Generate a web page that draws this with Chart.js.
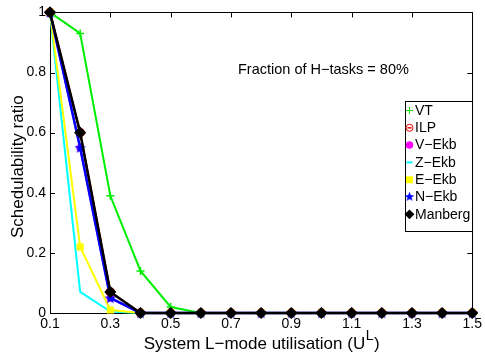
<!DOCTYPE html>
<html lang="en">
<head>
<meta charset="UTF-8">
<title>Schedulability ratio</title>
<script src="https://cdn.jsdelivr.net/npm/chart.js"></script>
<style>
  html, body { margin: 0; padding: 0; background: #fff; }
  #wrap { width: 485px; height: 358px; }
</style>
</head>
<body>
<div id="wrap"><canvas id="myChart" width="485" height="358"></canvas></div>
<script>
  // system L-mode utilisation (x) and the schedulability ratio of each test
  const utilisation = [0.1, 0.2, 0.3, 0.4, 0.5, 0.6, 0.7, 0.8, 0.9, 1.0, 1.1, 1.2, 1.3, 1.4, 1.5];
  const vt      = [1, 0.93, 0.39, 0.14, 0.02, 0, 0, 0, 0, 0, 0, 0, 0, 0, 0];
  const ilp     = [1, 0.60, 0.07, 0, 0, 0, 0, 0, 0, 0, 0, 0, 0, 0, 0];
  const vEkb    = [1, 0.55, 0.05, 0, 0, 0, 0, 0, 0, 0, 0, 0, 0, 0, 0];
  const zEkb    = [1, 0.07, 0.005, 0, 0, 0, 0, 0, 0, 0, 0, 0, 0, 0, 0];
  const eEkb    = [1, 0.22, 0.01, 0, 0, 0, 0, 0, 0, 0, 0, 0, 0, 0, 0];
  const nEkb    = [1, 0.55, 0.05, 0, 0, 0, 0, 0, 0, 0, 0, 0, 0, 0, 0];
  const manberg = [1, 0.60, 0.07, 0, 0, 0, 0, 0, 0, 0, 0, 0, 0, 0, 0];

  const xTicks = [0.1, 0.3, 0.5, 0.7, 0.9, 1.1, 1.3, 1.5];
  const yTicks = [0, 0.2, 0.4, 0.6, 0.8, 1];
  const noteText = 'Fraction of H\u2212tasks = 80%';

  const FONT = '"Liberation Sans", Arial, Helvetica, sans-serif';

  function starImage(size, color) {
    const c = document.createElement('canvas');
    c.width = c.height = size;
    const g = c.getContext('2d');
    const cx = size / 2, cy = size / 2 + 0.5, ro = size / 2 - 0.5, ri = ro * 0.42;
    g.beginPath();
    for (let i = 0; i < 10; i++) {
      const r = i % 2 ? ri : ro;
      const a = -Math.PI / 2 + i * Math.PI / 5;
      g.lineTo(cx + r * Math.cos(a), cy + r * Math.sin(a));
    }
    g.closePath();
    g.fillStyle = color;
    g.fill();
    return c;
  }
  const blueStar = starImage(13, '#0000ff');

  const pts = ys => ys.map((y, i) => ({ x: utilisation[i], y }));

  const series = [
    { label: 'VT', data: vt, color: '#00ee00', style: 'cross', radius: 4, fill: false, width: 2 },
    { label: 'ILP', data: ilp, color: '#ff0000', style: 'circle', radius: 4, fill: false, width: 2 },
    { label: 'V\u2212Ekb', data: vEkb, color: '#ff00ff', style: 'circle', radius: 3, fill: true, width: 2 },
    { label: 'Z\u2212Ekb', data: zEkb, color: '#00ffff', style: 'line', radius: 0, fill: false, width: 2 },
    { label: 'E\u2212Ekb', data: eEkb, color: '#ffff00', style: 'rect', radius: 4, fill: true, width: 2 },
    { label: 'N\u2212Ekb', data: nEkb, color: '#0000ff', style: blueStar, radius: 6, fill: true, width: 2.5 },
    { label: 'Manberg', data: manberg, color: '#000000', style: 'rectRot', radius: 5, fill: true, width: 2.5 }
  ];

  const datasets = series.map((s, i) => ({
    label: s.label,
    data: pts(s.data),
    borderColor: s.color,
    backgroundColor: s.color,
    borderWidth: s.width,
    pointStyle: s.style === 'line' ? 'circle' : s.style,
    pointRadius: s.radius,
    pointBorderWidth: 1.5,
    pointBackgroundColor: s.fill ? s.color : 'rgba(0,0,0,0)',
    pointBorderColor: s.color,
    tension: 0,
    clip: false,
    order: series.length - i
  }));

  // box, inward ticks, axis titles, note text and the legend
  const decorations = {
    id: 'decorations',
    beforeDatasetsDraw(chart) {
      const { ctx, chartArea: a, scales } = chart;
      ctx.save();
      ctx.strokeStyle = '#000';
      ctx.lineWidth = 1;
      ctx.strokeRect(Math.round(a.left) + 0.5, Math.round(a.top) + 0.5,
        Math.round(a.right - a.left), Math.round(a.bottom - a.top));
      ctx.beginPath();
      xTicks.forEach(v => {
        const x = Math.round(scales.x.getPixelForValue(v)) + 0.5;
        ctx.moveTo(x, a.bottom); ctx.lineTo(x, a.bottom - 5);
        ctx.moveTo(x, a.top); ctx.lineTo(x, a.top + 5);
      });
      yTicks.forEach(v => {
        const y = Math.round(scales.y.getPixelForValue(v)) + 0.5;
        ctx.moveTo(a.left, y); ctx.lineTo(a.left + 5, y);
        ctx.moveTo(a.right, y); ctx.lineTo(a.right - 5, y);
      });
      ctx.stroke();
      ctx.restore();
    },
    afterDraw(chart) {
      const { ctx, chartArea: a } = chart;
      ctx.save();
      ctx.fillStyle = '#000';

      // y title
      ctx.save();
      ctx.translate(18, (a.top + a.bottom) / 2 + 4);
      ctx.rotate(-Math.PI / 2);
      ctx.font = '17px ' + FONT;
      ctx.textAlign = 'center';
      ctx.textBaseline = 'middle';
      ctx.fillText('Schedulability ratio', 0, 0);
      ctx.restore();

      // x title with superscript L
      const main = 'System L\u2212mode utilisation (U';
      ctx.textBaseline = 'alphabetic';
      ctx.textAlign = 'left';
      ctx.font = '17px ' + FONT;
      const w1 = ctx.measureText(main).width;
      const w3 = ctx.measureText(')').width;
      ctx.font = '14px ' + FONT;
      const w2 = ctx.measureText('L').width;
      const x0 = (a.left + a.right) / 2 - (w1 + w2 + w3) / 2;
      const base = 349;
      ctx.font = '17px ' + FONT;
      ctx.fillText(main, x0, base);
      ctx.font = '14px ' + FONT;
      ctx.fillText('L', x0 + w1 + 0.5, base - 9);
      ctx.font = '17px ' + FONT;
      ctx.fillText(')', x0 + w1 + w2 + 1, base);

      // note
      ctx.font = '14.5px ' + FONT;
      ctx.textBaseline = 'middle';
      ctx.fillText(noteText, 238, 70);

      // legend
      const lx = 405.5, ly = 101.5, lw = 67, lh = 130;
      ctx.fillStyle = '#fff';
      ctx.fillRect(lx, ly, lw, lh);
      ctx.strokeStyle = '#000';
      ctx.lineWidth = 1;
      ctx.strokeRect(lx, ly, lw, lh);
      ctx.font = '14px ' + FONT;
      ctx.textBaseline = 'middle';
      series.forEach((s, i) => {
        const y = 110.5 + i * 17.3;
        const mx = 409.5;
        ctx.strokeStyle = s.color;
        ctx.fillStyle = s.color;
        if (s.style === 'line') {
          ctx.lineWidth = 2;
          ctx.beginPath(); ctx.moveTo(mx - 3, y); ctx.lineTo(mx + 3, y); ctx.stroke();
        } else if (s.style instanceof HTMLCanvasElement) {
          ctx.drawImage(s.style, mx - 5.5, y - 6, 11, 11);
        } else {
          const r = Math.min(s.radius, 3.5);
          if (!s.fill) ctx.fillStyle = '#fff';
          Chart.helpers.drawPoint(ctx, { pointStyle: s.style, radius: r, rotation: 0, borderWidth: 2 }, mx, y);
          if (s.style === 'circle' && !s.fill) {
            ctx.lineWidth = 1.5;
            ctx.beginPath(); ctx.moveTo(mx - 2, y); ctx.lineTo(mx + 2, y); ctx.stroke();
          }
        }
        ctx.fillStyle = '#000';
        ctx.fillText(s.label, 415, y + 0.5);
      });
      ctx.restore();
    }
  };

  const ctx = document.getElementById('myChart').getContext('2d');
  new Chart(ctx, {
    type: 'line',
    data: { datasets },
    options: {
      responsive: false,
      animation: false,
      events: [],
      layout: { padding: { left: 0, right: 10, top: 10, bottom: 0 } },
      plugins: { legend: { display: false }, tooltip: { enabled: false } },
      scales: {
        x: {
          type: 'linear',
          min: 0.1,
          max: 1.5,
          afterFit: s => { s.height = 45; },
          afterBuildTicks: s => { s.ticks = xTicks.map(v => ({ value: v })); },
          grid: { display: false, drawTicks: false },
          border: { display: false },
          ticks: {
            color: '#000',
            padding: 3,
            maxRotation: 0,
            autoSkip: false,
            font: { family: FONT, size: 14 },
            callback: v => String(+v.toFixed(1))
          }
        },
        y: {
          min: 0,
          max: 1,
          afterFit: s => { s.width = 50; },
          afterBuildTicks: s => { s.ticks = yTicks.map(v => ({ value: v })); },
          grid: { display: false, drawTicks: false },
          border: { display: false },
          ticks: {
            color: '#000',
            padding: 4,
            font: { family: FONT, size: 14 },
            callback: v => String(+v.toFixed(1))
          }
        }
      }
    },
    plugins: [decorations]
  });
</script>
</body>
</html>
